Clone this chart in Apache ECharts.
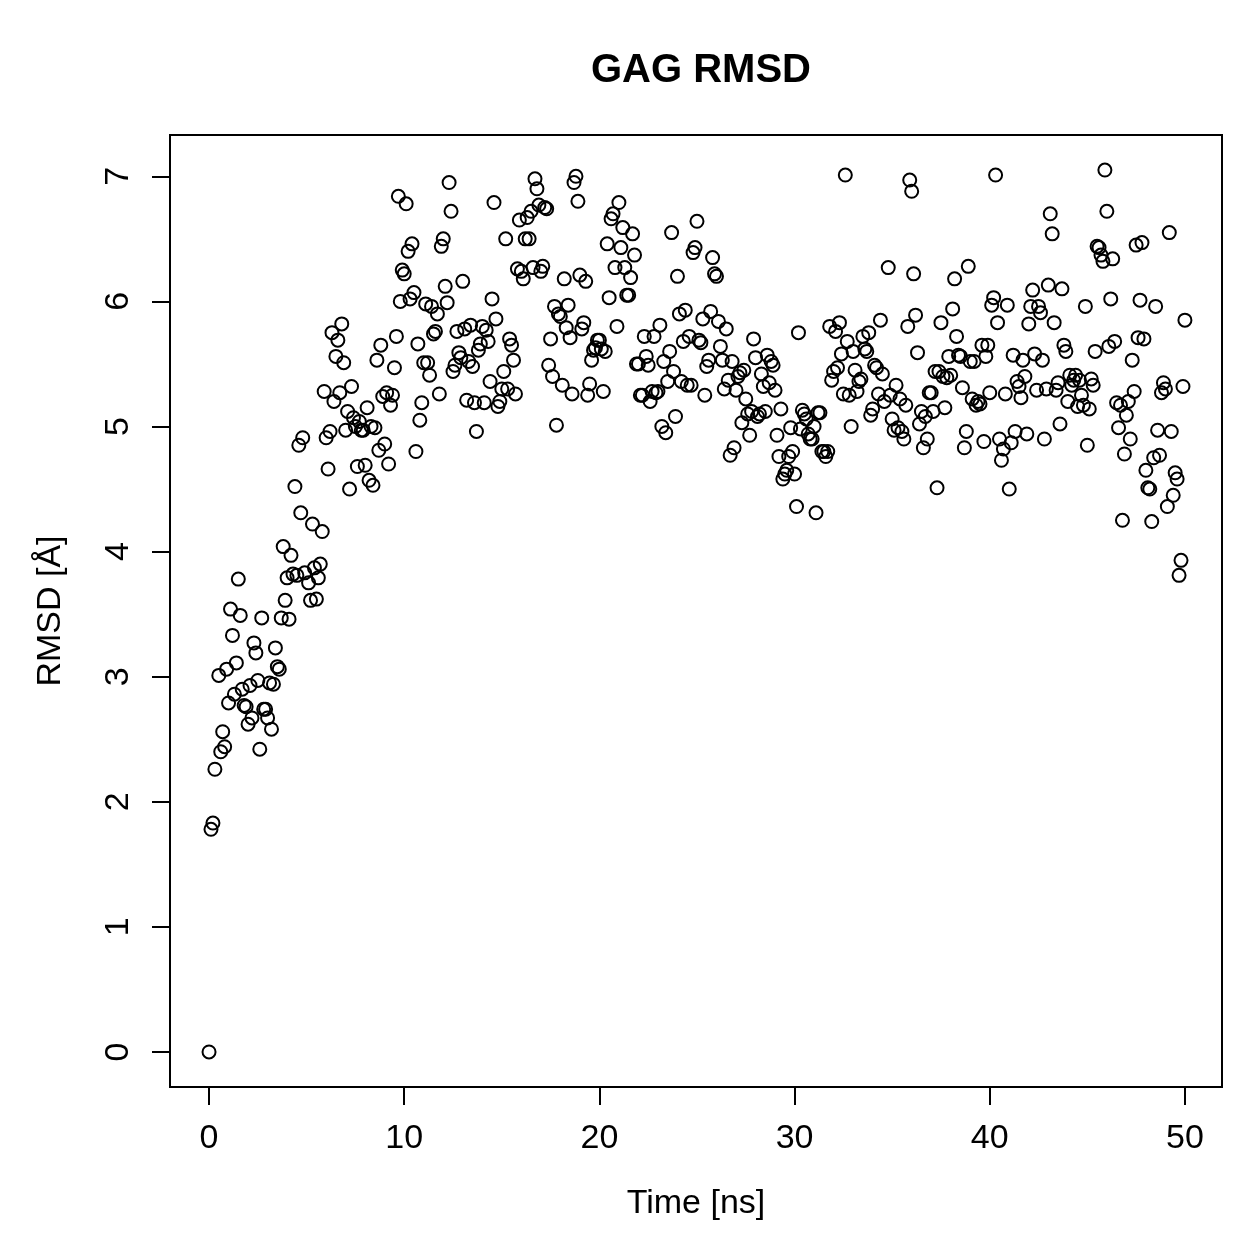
<!DOCTYPE html>
<html>
<head>
<meta charset="utf-8">
<script src="https://cdn.jsdelivr.net/npm/echarts@6/dist/echarts.min.js"></script>
<style>
  html, body { margin: 0; padding: 0; background: #fff; }
  #main { width: 1259px; height: 1259px; }
</style>
</head>
<body>
<div id="main"></div>
<script>
// RMSD samples [time ns, RMSD A]
var block0to10 = [
  [0.0, 0.0], [0.1, 1.78], [0.2, 1.83], [0.3, 2.26], [0.5, 3.01], [0.6, 2.4], [0.7, 2.56], [0.8, 2.44],
  [0.9, 3.06], [1.0, 2.79], [1.1, 3.54], [1.2, 3.33], [1.3, 2.86], [1.4, 3.11], [1.5, 3.78], [1.6, 3.49],
  [1.7, 2.9], [1.8, 2.77], [1.9, 2.76], [2.0, 2.62], [2.1, 2.93], [2.2, 2.67], [2.3, 3.27], [2.4, 3.19],
  [2.5, 2.97], [2.6, 2.42], [2.7, 3.47], [2.8, 2.74], [2.9, 2.74], [3.0, 2.67], [3.1, 2.95], [3.2, 2.58],
  [3.3, 2.94], [3.4, 3.23], [3.5, 3.08], [3.6, 3.06], [3.7, 3.47], [3.8, 4.04], [3.9, 3.61], [4.0, 3.79],
  [4.1, 3.46], [4.2, 3.97], [4.3, 3.82], [4.4, 4.52], [4.5, 3.81], [4.6, 4.85], [4.7, 4.31], [4.8, 4.91],
  [4.9, 3.83], [5.1, 3.75], [5.2, 3.61], [5.3, 4.22], [5.4, 3.87], [5.5, 3.62], [5.6, 3.79], [5.7, 3.9],
  [5.8, 4.16], [5.9, 5.28], [6.0, 4.91], [6.1, 4.66], [6.2, 4.96], [6.3, 5.75], [6.4, 5.2], [6.5, 5.56],
  [6.6, 5.69], [6.7, 5.27], [6.8, 5.82], [6.9, 5.51], [7.0, 4.97], [7.1, 5.12], [7.2, 4.5], [7.3, 5.32],
  [7.4, 5.07], [7.5, 5.0], [7.6, 4.68], [7.7, 5.04], [7.8, 4.97], [7.9, 4.97], [8.0, 4.69], [8.1, 5.15],
  [8.2, 4.57], [8.3, 5.0], [8.4, 4.53], [8.5, 4.99], [8.6, 5.53], [8.7, 4.81], [8.8, 5.65], [8.9, 5.24],
  [9.0, 4.86], [9.1, 5.27], [9.2, 4.7], [9.3, 5.17], [9.4, 5.25], [9.5, 5.47], [9.6, 5.72], [9.7, 6.84],
  [9.8, 6.0], [9.9, 6.25], [10.0, 6.22]
];
var block10to20 = [
  [10.1, 6.78], [10.2, 6.4], [10.3, 6.02], [10.4, 6.46], [10.5, 6.07], [10.6, 4.8], [10.7, 5.66], [10.8, 5.05],
  [10.9, 5.19], [11.0, 5.51], [11.1, 5.98], [11.2, 5.51], [11.3, 5.41], [11.4, 5.96], [11.5, 5.74], [11.6, 5.76],
  [11.7, 5.9], [11.8, 5.26], [11.9, 6.44], [12.0, 6.5], [12.1, 6.12], [12.2, 5.99], [12.3, 6.95], [12.4, 6.72],
  [12.5, 5.44], [12.6, 5.49], [12.7, 5.76], [12.8, 5.59], [12.9, 5.55], [13.0, 6.16], [13.1, 5.78], [13.2, 5.21],
  [13.3, 5.52], [13.4, 5.81], [13.5, 5.48], [13.6, 5.19], [13.7, 4.96], [13.8, 5.61], [13.9, 5.66], [14.0, 5.8],
  [14.1, 5.19], [14.2, 5.77], [14.3, 5.68], [14.4, 5.36], [14.5, 6.02], [14.6, 6.79], [14.7, 5.86], [14.8, 5.16],
  [14.9, 5.2], [15.0, 5.3], [15.1, 5.44], [15.2, 6.5], [15.3, 5.3], [15.4, 5.7], [15.5, 5.65], [15.6, 5.53],
  [15.7, 5.26], [15.8, 6.26], [15.9, 6.65], [16.0, 6.24], [16.1, 6.18], [16.2, 6.5], [16.3, 6.67], [16.4, 6.5],
  [16.5, 6.72], [16.6, 6.27], [16.7, 6.98], [16.8, 6.9], [16.9, 6.77], [17.0, 6.24], [17.1, 6.28], [17.2, 6.75],
  [17.3, 6.74], [17.4, 5.49], [17.5, 5.7], [17.6, 5.4], [17.7, 5.96], [17.8, 5.01], [17.9, 5.9], [18.0, 5.88],
  [18.1, 5.33], [18.2, 6.18], [18.3, 5.79], [18.4, 5.97], [18.5, 5.71], [18.6, 5.26], [18.7, 6.95], [18.8, 7.0],
  [18.9, 6.8], [19.0, 6.21], [19.1, 5.78], [19.2, 5.83], [19.3, 6.16], [19.4, 5.25], [19.5, 5.34], [19.6, 5.53],
  [19.7, 5.61], [19.8, 5.63], [19.9, 5.69], [20.0, 5.69]
];
var block20to30 = [
  [20.1, 5.62], [20.2, 5.28], [20.3, 5.6], [20.4, 6.46], [20.5, 6.03], [20.6, 6.66], [20.7, 6.7], [20.8, 6.27],
  [20.9, 5.8], [21.0, 6.79], [21.1, 6.43], [21.2, 6.59], [21.3, 6.27], [21.4, 6.05], [21.5, 6.05], [21.6, 6.19],
  [21.7, 6.54], [21.8, 6.37], [21.9, 5.5], [22.0, 5.5], [22.1, 5.25], [22.2, 5.25], [22.3, 5.72], [22.4, 5.56],
  [22.5, 5.49], [22.6, 5.2], [22.7, 5.28], [22.8, 5.72], [22.9, 5.27], [23.0, 5.28], [23.1, 5.81], [23.2, 5.0],
  [23.3, 5.52], [23.4, 4.95], [23.5, 5.36], [23.6, 5.6], [23.7, 6.55], [23.8, 5.44], [23.9, 5.08], [24.0, 6.2],
  [24.1, 5.9], [24.2, 5.36], [24.3, 5.68], [24.4, 5.93], [24.5, 5.33], [24.6, 5.72], [24.7, 5.33], [24.8, 6.39],
  [24.9, 6.43], [25.0, 6.64], [25.1, 5.69], [25.2, 5.67], [25.3, 5.86], [25.4, 5.25], [25.5, 5.48], [25.6, 5.53],
  [25.7, 5.92], [25.8, 6.35], [25.9, 6.22], [26.0, 6.2], [26.1, 5.84], [26.2, 5.64], [26.3, 5.53], [26.4, 5.3],
  [26.5, 5.78], [26.6, 5.37], [26.7, 4.77], [26.8, 5.52], [26.9, 4.83], [27.0, 5.29], [27.1, 5.4], [27.2, 5.43],
  [27.3, 5.03], [27.4, 5.45], [27.5, 5.22], [27.6, 5.1], [27.7, 4.93], [27.8, 5.12], [27.9, 5.7], [28.0, 5.55],
  [28.1, 5.08], [28.2, 5.1], [28.3, 5.42], [28.4, 5.32], [28.5, 5.12], [28.6, 5.57], [28.7, 5.35], [28.8, 5.52],
  [28.9, 5.49], [29.0, 5.29], [29.1, 4.93], [29.2, 4.76], [29.3, 5.14], [29.4, 4.58], [29.5, 4.62], [29.6, 4.65],
  [29.7, 4.76], [29.8, 4.99], [29.9, 4.8], [30.0, 4.62]
];
var block30to40 = [
  [30.1, 4.36], [30.2, 5.75], [30.3, 4.98], [30.4, 5.13], [30.5, 5.1], [30.6, 5.06], [30.7, 4.94], [30.8, 4.9],
  [30.9, 4.9], [31.0, 5.0], [31.1, 4.31], [31.2, 5.11], [31.3, 5.11], [31.4, 4.8], [31.5, 4.8], [31.6, 4.76],
  [31.7, 4.8], [31.8, 5.8], [31.9, 5.37], [32.0, 5.44], [32.1, 5.76], [32.2, 5.47], [32.3, 5.83], [32.4, 5.58],
  [32.5, 5.26], [32.6, 7.01], [32.7, 5.68], [32.8, 5.25], [32.9, 5.0], [33.0, 5.6], [33.1, 5.45], [33.2, 5.28],
  [33.3, 5.36], [33.4, 5.38], [33.5, 5.72], [33.6, 5.62], [33.7, 5.6], [33.8, 5.75], [33.9, 5.09], [34.0, 5.14],
  [34.1, 5.49], [34.2, 5.47], [34.3, 5.26], [34.4, 5.85], [34.5, 5.42], [34.6, 5.2], [34.8, 6.27], [34.9, 5.25],
  [35.0, 5.06], [35.1, 4.97], [35.2, 5.33], [35.3, 4.99], [35.4, 5.22], [35.5, 4.96], [35.6, 4.9], [35.7, 5.17],
  [35.8, 5.8], [35.9, 6.97], [36.0, 6.88], [36.1, 6.22], [36.2, 5.89], [36.3, 5.59], [36.4, 5.02], [36.5, 5.12],
  [36.6, 4.83], [36.7, 5.08], [36.8, 4.9], [36.9, 5.27], [37.0, 5.27], [37.1, 5.12], [37.2, 5.44], [37.3, 4.51],
  [37.4, 5.44], [37.5, 5.83], [37.6, 5.4], [37.7, 5.15], [37.8, 5.39], [37.9, 5.56], [38.0, 5.41], [38.1, 5.94],
  [38.2, 6.18], [38.3, 5.72], [38.4, 5.57], [38.5, 5.56], [38.6, 5.31], [38.7, 4.83], [38.8, 4.96], [38.9, 6.28],
  [39.0, 5.52], [39.1, 5.22], [39.2, 5.52], [39.3, 5.17], [39.4, 5.2], [39.5, 5.18], [39.6, 5.65], [39.7, 4.88],
  [39.8, 5.56], [39.9, 5.65], [40.0, 5.27]
];
var block40to50 = [
  [40.1, 5.97], [40.2, 6.03], [40.3, 7.01], [40.4, 5.83], [40.5, 4.9], [40.6, 4.73], [40.7, 4.82], [40.8, 5.26],
  [40.9, 5.97], [41.0, 4.5], [41.1, 4.87], [41.2, 5.57], [41.3, 4.96], [41.4, 5.36], [41.5, 5.32], [41.6, 5.23],
  [41.7, 5.53], [41.8, 5.4], [41.9, 4.94], [42.0, 5.82], [42.1, 5.96], [42.2, 6.09], [42.3, 5.58], [42.4, 5.29],
  [42.5, 5.96], [42.6, 5.91], [42.7, 5.53], [42.8, 4.9], [42.9, 5.3], [43.0, 6.13], [43.1, 6.7], [43.2, 6.54],
  [43.3, 5.83], [43.4, 5.29], [43.5, 5.35], [43.6, 5.02], [43.7, 6.1], [43.8, 5.65], [43.9, 5.6], [44.0, 5.2],
  [44.1, 5.41], [44.2, 5.33], [44.3, 5.37], [44.4, 5.41], [44.5, 5.16], [44.6, 5.37], [44.7, 5.25], [44.8, 5.17],
  [44.9, 5.96], [45.0, 4.85], [45.1, 5.14], [45.2, 5.38], [45.3, 5.33], [45.4, 5.6], [45.5, 6.44], [45.6, 6.43],
  [45.7, 6.37], [45.8, 6.32], [45.9, 7.05], [46.0, 6.72], [46.1, 5.64], [46.2, 6.02], [46.3, 6.34], [46.4, 5.68],
  [46.5, 5.19], [46.6, 4.99], [46.7, 5.17], [46.8, 4.25], [46.9, 4.78], [47.0, 5.09], [47.1, 5.2], [47.2, 4.9],
  [47.3, 5.53], [47.4, 5.28], [47.5, 6.45], [47.6, 5.71], [47.7, 6.01], [47.8, 6.47], [47.9, 5.7], [48.0, 4.65],
  [48.1, 4.51], [48.2, 4.5], [48.3, 4.24], [48.4, 4.75], [48.5, 5.96], [48.6, 4.97], [48.7, 4.77], [48.8, 5.27],
  [48.9, 5.35], [49.0, 5.3], [49.1, 4.36], [49.2, 6.55], [49.3, 4.96], [49.4, 4.45], [49.5, 4.63], [49.6, 4.58],
  [49.7, 3.81], [49.8, 3.93], [49.9, 5.32], [50.0, 5.85]
];

var xTicks = [0, 10, 20, 30, 40, 50];
var yTicks = [0, 1, 2, 3, 4, 5, 6, 7];

var points = block0to10.concat(block10to20, block20to30, block30to40, block40to50);

var chart = echarts.init(document.getElementById('main'));
var font = 'Liberation Sans, Arial, Helvetica, sans-serif';

var option = {
    animation: false,
    backgroundColor: '#fff',
    title: {
        text: 'GAG RMSD',
        left: 696,
        top: 46,
        textAlign: 'center',
        textStyle: { fontFamily: font, fontSize: 40, fontWeight: 'bold', color: '#000' }
    },
    grid: {
        show: true,
        left: 170,
        top: 135,
        right: 37,
        bottom: 172,
        borderColor: '#000',
        borderWidth: 2,
        backgroundColor: 'transparent'
    },
    xAxis: {
        type: 'value',
        min: -2,
        max: 51.9,
        name: 'Time [ns]',
        nameLocation: 'middle',
        nameGap: 100,
        nameTextStyle: { fontFamily: font, fontSize: 34, color: '#000' },
        axisLine: { show: false, onZero: false },
        axisTick: {
            show: true,
            inside: false,
            length: 18,
            customValues: xTicks,
            lineStyle: { color: '#000', width: 2 }
        },
        axisLabel: {
            customValues: xTicks,
            margin: 35,
            fontFamily: font,
            fontSize: 34,
            color: '#000'
        },
        splitLine: { show: false }
    },
    yAxis: {
        type: 'value',
        min: -0.28,
        max: 7.33,
        name: 'RMSD [Å]',
        nameLocation: 'middle',
        nameRotate: 90,
        nameGap: 102,
        nameTextStyle: { fontFamily: font, fontSize: 34, color: '#000' },
        axisLine: { show: false, onZero: false },
        axisTick: {
            show: true,
            inside: false,
            length: 18,
            customValues: yTicks,
            lineStyle: { color: '#000', width: 2 }
        },
        axisLabel: {
            customValues: yTicks,
            rotate: 90,
            align: 'center',
            verticalAlign: 'bottom',
            margin: 34,
            fontFamily: font,
            fontSize: 34,
            color: '#000'
        },
        splitLine: { show: false }
    },
    series: [{
        type: 'scatter',
        data: points,
        symbol: 'circle',
        symbolSize: 13,
        itemStyle: {
            color: 'rgba(0,0,0,0)',
            borderColor: '#000',
            borderWidth: 2,
            opacity: 1
        }
    }]
};
chart.setOption(option);
window.addEventListener('resize', function () {
    chart.resize();
});
</script>
</body>
</html>
